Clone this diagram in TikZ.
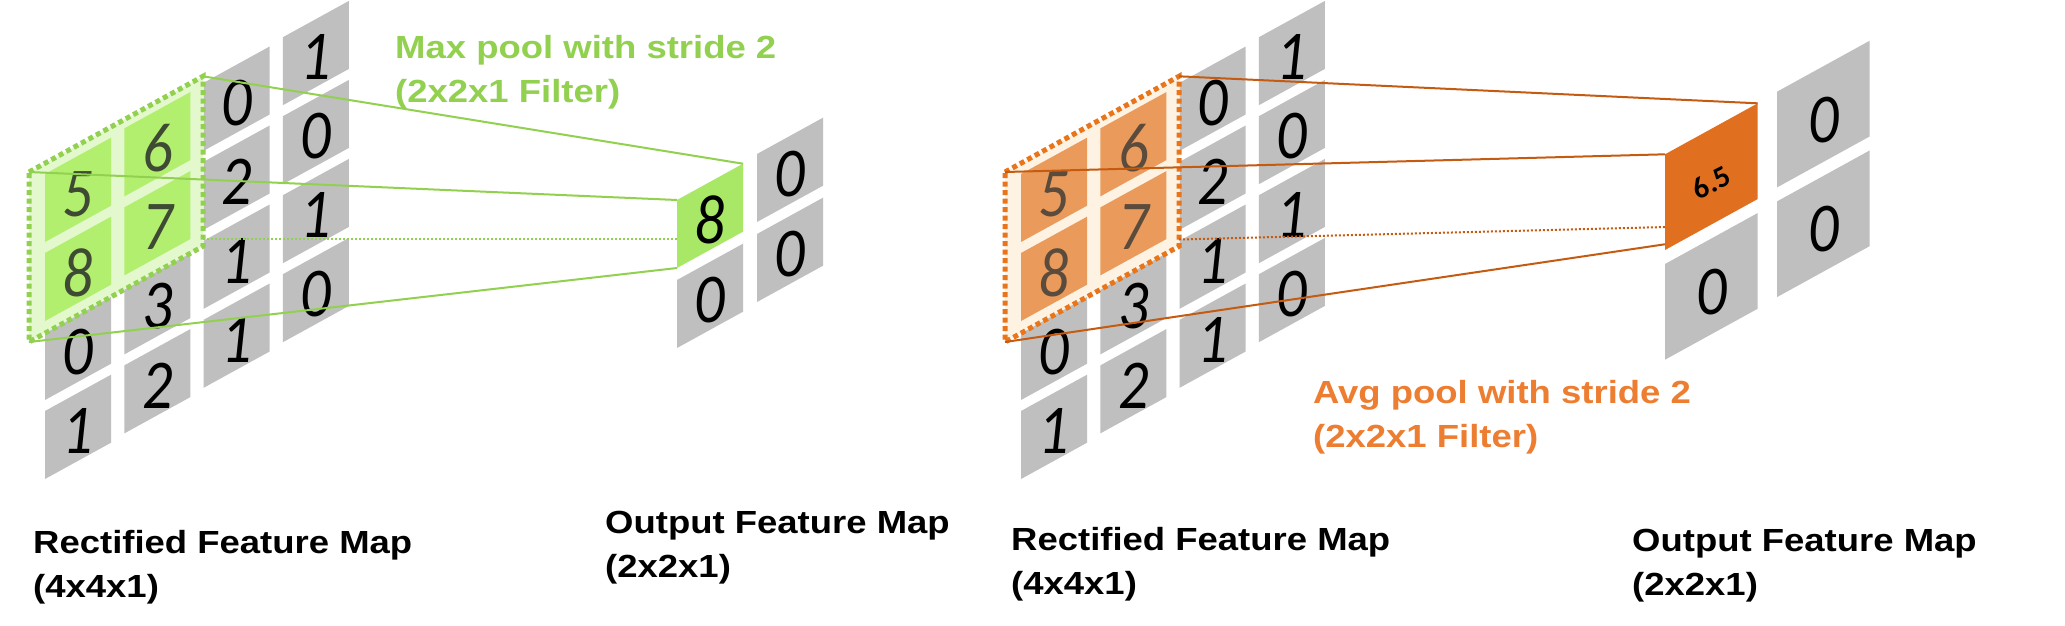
\documentclass[tikz,border=0pt]{standalone}
\usepackage{fontspec}
\usetikzlibrary{calc}
\setmainfont{Liberation Sans}
\newfontfamily\labelfont[FakeStretch=1.14]{Liberation Sans}
\newfontfamily\digitfont[FakeStretch=0.86]{Carlito}
\newfontfamily\valfont{Carlito}
\definecolor{cellgray}{HTML}{BFBFBF}
\definecolor{gLine}{HTML}{92D050}
\definecolor{gHalo}{HTML}{E3F8CC}
\definecolor{gCell}{HTML}{B2EF6E}
\definecolor{gOut}{HTML}{A9E866}
\definecolor{gText}{HTML}{92D050}
\definecolor{gDigit}{HTML}{3E4A33}
\definecolor{oLine}{HTML}{C55A11}
\definecolor{oDash}{HTML}{E8751A}
\definecolor{oHalo}{HTML}{FEF2E3}
\definecolor{oCell}{HTML}{EA9B5B}
\definecolor{oOut}{HTML}{E07020}
\definecolor{oText}{HTML}{ED7D31}
\definecolor{oDigit}{HTML}{5A4B3C}
% #1 name, #2 x, #3 y (top-left), #4 width, #5 height, #6 fill, #7 node style, #8 text
\newcommand\pcell[8]{%
  \fill[#6] (#2,#3) coordinate (#1-tl) -- ++(#4,{-0.55*#4}) coordinate (#1-tr)
    -- ++(0,#5) coordinate (#1-br) -- ++({-#4},{0.55*#4}) coordinate (#1-bl) -- cycle;
  \node[#7] (#1) at ({#2+#4/2},{#3+#5/2-0.275*#4+0.06*#5}) {#8};
}
\begin{document}
\begin{tikzpicture}[x=1pt,y=-1pt,
  digit/.style={inner sep=0pt, font=\digitfont\itshape\fontsize{70}{70}\selectfont},
  val/.style={inner sep=0pt, rotate=27, font=\valfont\bfseries\fontsize{30}{30}\selectfont},
  lbl/.style={anchor=base west, align=left, inner sep=0pt, font=\labelfont\bfseries\fontsize{32}{44}\selectfont},
  conn/.style={line width=2pt},
  hidden/.style={line width=2pt, dash pattern=on 2pt off 2pt},
  halo/.style={line width=5pt, dash pattern=on 5pt off 3.5pt}]
\fill[white] (0,0) rectangle (2065,625);
\useasboundingbox (0,0) rectangle (2065,625);

% ---------- left: max pool ----------
\foreach \c/\r/\d in {0/2/0,0/3/1,1/2/3,1/3/2,2/0/0,2/1/2,2/2/1,2/3/1,3/0/1,3/1/0,3/2/1,3/3/0}{
  \pgfmathsetmacro\xx{45+79.3*\c}
  \pgfmathsetmacro\yy{174+79*\r-45.6*\c}
  \pcell{L\c\r}{\xx}{\yy}{66}{68}{cellgray}{digit}{\d}
}
\path[fill=gHalo, draw=gLine, halo] (29,172) coordinate (Lh-tl) -- ++(174,-95.7) coordinate (Lh-tr)
  -- ++(0,170) coordinate (Lh-br) -- ++(-174,95.7) coordinate (Lh-bl) -- cycle;
\foreach \c/\r/\d in {0/0/5,0/1/8,1/0/6,1/1/7}{
  \pgfmathsetmacro\xx{45+79.3*\c}
  \pgfmathsetmacro\yy{174+79*\r-45.6*\c}
  \pcell{L\c\r}{\xx}{\yy}{66}{68}{gCell}{digit,text=gDigit}{\d}
}
\pcell{Lo8}{677}{200}{66}{68}{gOut}{digit}{8}
\pcell{Lo01}{677}{280}{66}{68}{cellgray}{digit}{0}
\pcell{Lo10}{757}{154}{66}{68}{cellgray}{digit}{0}
\pcell{Lo11}{757}{234}{66}{68}{cellgray}{digit}{0}
\coordinate (Ld1) at (203,239);
\draw[gLine, conn] (Lh-tr) -- (Lo8-tr);
\draw[gLine, conn] (Lh-tl) -- (Lo8-tl);
\draw[gLine, hidden] (Ld1) -- (Ld1 -| Lo8-tl);
\draw[gLine, conn] (Lh-bl) -- (Lo8-bl);

% ---------- right: avg pool ----------
\foreach \c/\r/\d in {0/2/0,0/3/1,1/2/3,1/3/2,2/0/0,2/1/2,2/2/1,2/3/1,3/0/1,3/1/0,3/2/1,3/3/0}{
  \pgfmathsetmacro\xx{1021+79.3*\c}
  \pgfmathsetmacro\yy{174+79*\r-45.6*\c}
  \pcell{R\c\r}{\xx}{\yy}{66}{68}{cellgray}{digit}{\d}
}
\path[fill=oHalo, draw=oDash, halo] (1005,172) coordinate (Rh-tl) -- ++(174,-95.7) coordinate (Rh-tr)
  -- ++(0,170) coordinate (Rh-br) -- ++(-174,95.7) coordinate (Rh-bl) -- cycle;
\foreach \c/\r/\d in {0/0/5,0/1/8,1/0/6,1/1/7}{
  \pgfmathsetmacro\xx{1021+79.3*\c}
  \pgfmathsetmacro\yy{174+79*\r-45.6*\c}
  \pcell{R\c\r}{\xx}{\yy}{66}{68}{oCell}{digit,text=oDigit}{\d}
}
\pcell{Ro65}{1665}{154.3}{92.7}{95.7}{oOut}{val}{6.5}
\pcell{Ro01}{1665}{264}{92.7}{95.7}{cellgray}{digit}{0}
\pcell{Ro10}{1777}{91.7}{92.7}{95.7}{cellgray}{digit}{0}
\pcell{Ro11}{1777}{201.4}{92.7}{95.7}{cellgray}{digit}{0}
\coordinate (Rd1) at (1179,239.5);
\coordinate (Rd2) at ($(Ro65-tl)!0.76!(Ro65-bl)$);
\coordinate (Rb2) at ($(Ro65-tl)!0.94!(Ro65-bl)$);
\draw[oLine, conn] (Rh-tr) -- (Ro65-tr);
\draw[oLine, conn] (Rh-tl) -- (Ro65-tl);
\draw[oLine, hidden] (Rd1) -- (Rd2);
\draw[oLine, conn] (Rh-bl) -- (Rb2);

% ---------- labels (anchored at the baseline of their last line) ----------
\node[lbl, text=gText] (maxlbl) at (395,102) {Max pool with stride 2\\(2x2x1 Filter)};
\node[lbl, text=oText] (avglbl) at (1313,447) {Avg pool with stride 2\\(2x2x1 Filter)};
\node[lbl] (rfl) at (33,597) {Rectified Feature Map\\(4x4x1)};
\node[lbl] (ofl) at (605,577) {Output Feature Map\\(2x2x1)};
\node[lbl] (rfr) at (1011,594) {Rectified Feature Map\\(4x4x1)};
\node[lbl] (ofr) at (1632,595) {Output Feature Map\\(2x2x1)};
\end{tikzpicture}
\end{document}
